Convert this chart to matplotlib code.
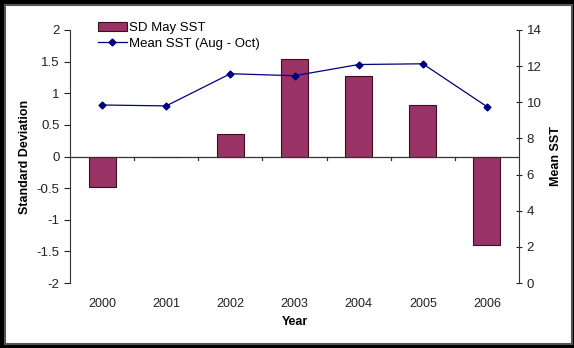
import matplotlib.pyplot as plt
import numpy as np
from matplotlib.patches import Rectangle

plt.rcParams['font.family'] = ['Liberation Sans', 'DejaVu Sans']

years = ['2000', '2001', '2002', '2003', '2004', '2005', '2006']
sd_may_sst = [-0.48, 0.0, 0.35, 1.54, 1.27, 0.81, -1.40]
mean_sst = [9.85, 9.80, 11.58, 11.47, 12.09, 12.13, 9.76]

fig = plt.figure(figsize=(5.74, 3.48), dpi=100)
fig.patch.set_facecolor('black')
# white card with grey inner edge, black frame around
fig.patches.append(Rectangle((5 / 574, 4 / 348), 567 / 574, 339 / 348,
                             transform=fig.transFigure, facecolor='white',
                             edgecolor='#555555', linewidth=1.5, zorder=-10))

ax = fig.add_axes([70 / 574, 1 - 283 / 348, 449 / 574, 253 / 348])
ax.set_facecolor('none')
x = np.arange(len(years))

ax.bar(x, sd_may_sst, width=0.42, color='#993366', edgecolor='#3a1020',
       linewidth=0.8, label='SD May SST', zorder=2)
ax.set_xlim(-0.5, len(years) - 0.5)
ax.set_ylim(-2, 2)
ax.set_yticks(np.arange(-2, 2.01, 0.5))
ax.set_yticklabels(['-2', '-1.5', '-1', '-0.5', '0', '0.5', '1', '1.5', '2'])

for s in ['top', 'right', 'bottom']:
    ax.spines[s].set_visible(False)
ax.spines['left'].set_color('#333333')
ax.axhline(0, color='#333333', linewidth=0.9, zorder=3)
ax.set_xticks(x)
ax.set_xticklabels(years)
ax.tick_params(axis='x', length=0, pad=11, labelsize=9, colors='#222222')
# category separator ticks on the zero line
for xb in np.arange(0.5, len(years) - 1, 1.0):
    ax.plot([xb, xb], [0, -0.06], color='#333333', linewidth=0.9,
            clip_on=False, zorder=3)
ax.tick_params(axis='y', length=4, labelsize=9.5, colors='#222222', direction='out')
ax.set_ylabel('Standard Deviation', fontsize=9, fontweight='bold', labelpad=4)
ax.set_xlabel('Year', fontsize=9, fontweight='bold', labelpad=4)

ax2 = ax.twinx()
ln, = ax2.plot(x, mean_sst, color='#000080', linewidth=0.9, marker='D',
               markersize=3.5, label='Mean SST (Aug - Oct)', zorder=4)
ax2.set_ylim(0, 14)
ax2.set_yticks(np.arange(0, 15, 2))
for s in ['top', 'left', 'bottom']:
    ax2.spines[s].set_visible(False)
ax2.spines['right'].set_color('#333333')
ax2.tick_params(axis='y', length=4, labelsize=9.5, colors='#222222', direction='inout')
ax2.set_ylabel('Mean SST', fontsize=9, fontweight='bold', labelpad=6)

handles = [ax.containers[0], ln]
ax.legend(handles, ['SD May SST', 'Mean SST (Aug - Oct)'], loc='upper left',
          bbox_to_anchor=(0.035, 1.08), frameon=False, fontsize=9.5,
          handlelength=2.2, handletextpad=0.15, labelspacing=0.3)

plt.savefig('out.png', dpi=100, facecolor=fig.get_facecolor())
